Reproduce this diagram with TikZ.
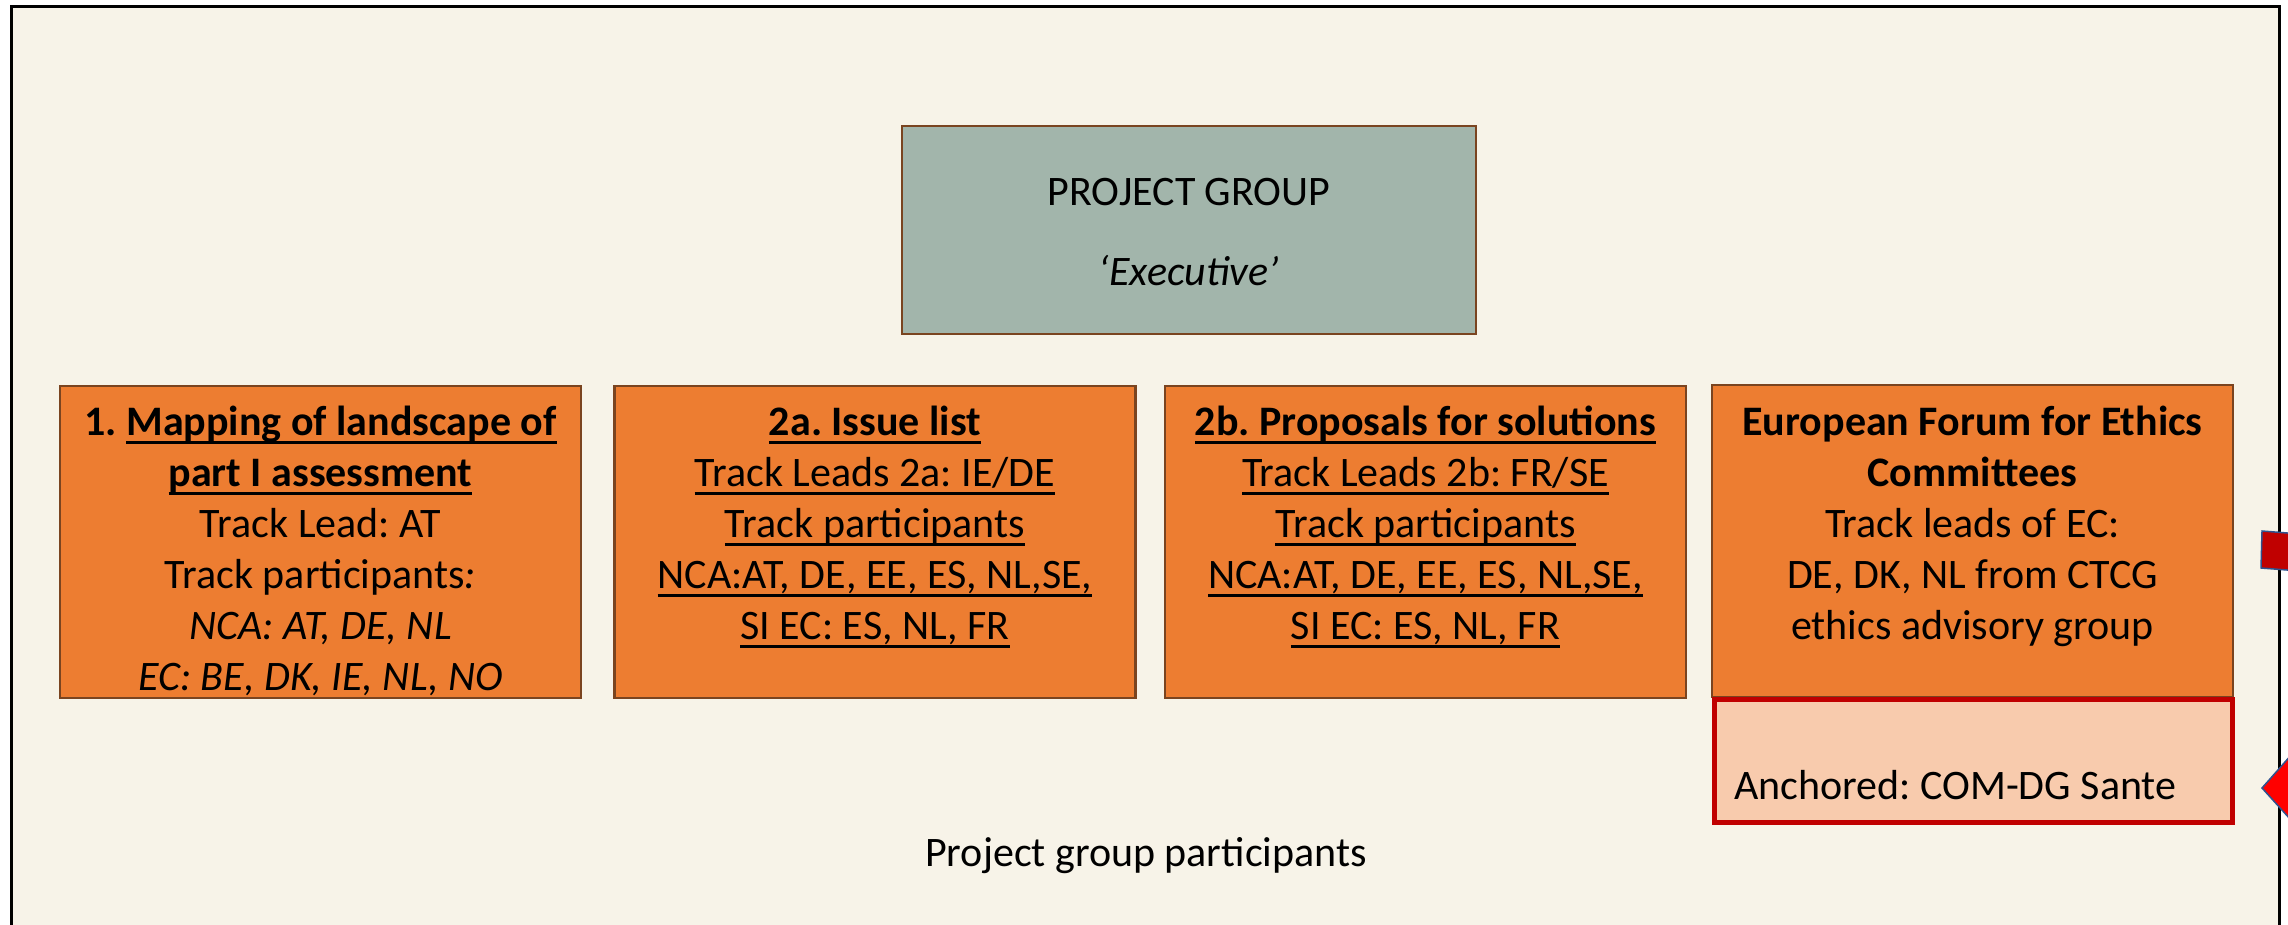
\documentclass[tikz,border=0pt]{standalone}
\usepackage{fontspec}
\setmainfont{Carlito}
\frenchspacing
\definecolor{cream}{HTML}{F7F3E8}
\definecolor{boxorange}{HTML}{ED7D31}
\definecolor{boxbrown}{HTML}{7A4420}
\definecolor{pggreen}{HTML}{A2B5AB}
\definecolor{pinkfill}{HTML}{F8CBAD}
\definecolor{darkred}{HTML}{C00000}
\definecolor{brightred}{HTML}{FF0000}
\definecolor{edgeblue}{HTML}{2F528F}
\newcommand{\topstrut}{\rule{0pt}{30pt}}
% underline drawn as a rule at a fixed depth under the text
\newcommand{\uln}[1]{\setbox0\hbox{#1}\rlap{\rule[-8.5pt]{\wd0}{2.6pt}}\box0}
\begin{document}
\begin{tikzpicture}[x=1pt,y=-1pt,
  every node/.style={font=\fontsize{42}{51}\selectfont\frenchspacing},
  trackbox/.style={draw=boxbrown, line width=2.5pt, fill=boxorange,
    minimum width=521pt, minimum height=312pt, inner sep=0pt},
  groupbox/.style={draw=boxbrown, line width=2.5pt, fill=pggreen,
    minimum width=574pt, minimum height=208pt, inner sep=0pt},
  anchorbox/.style={draw=darkred, line width=5pt, fill=pinkfill,
    minimum width=518pt, minimum height=123pt, inner sep=0pt},
  tracktext/.style={align=center, anchor=north, inner sep=0pt},
  plaintext/.style={anchor=base, inner sep=0pt},
  pointer/.style={draw=edgeblue, line width=1.5pt, line join=miter}
]
\useasboundingbox (0,0) rectangle (2288,925);
\fill[white] (0,0) rectangle (2288,925);

% slide frame, running off the bottom edge
\begin{scope}
  \clip (0,0) rectangle (2288,925);
  \draw[fill=cream, draw=black, line width=3pt] (11.5,7) rectangle (2279,960);
\end{scope}

% executive group
\node[groupbox] (pg) at (1189,230) {};
\node[plaintext] (pgtitle) at (1189,206) {PROJECT GROUP};
\node[plaintext] (pgsub) at (1189,286) {\itshape ‘Executive’};

% track boxes
\node[trackbox] (t1) at (320.5,542) {};
\node[trackbox] (t2) at (875,542) {};
\node[trackbox] (t3) at (1425.5,542) {};
\node[trackbox] (t4) at (1972.5,541) {};

\node[tracktext] (t1txt) at (320.5,405) {%
  \topstrut{\bfseries 1. \uln{Mapping of landscape of}}\\
  {\bfseries\uln{part I assessment}}\\
  Track Lead: AT\\
  Track participants\textit{:}\\
  \textit{NCA: AT, DE, NL}\\
  \textit{EC: BE, DK, IE, NL, NO}};

\node[tracktext] (t2txt) at (875,405) {%
  \topstrut{\bfseries\uln{2a. Issue list}}\\
  \uln{Track Leads 2a: IE/DE}\\
  \uln{Track participants}\\
  \uln{NCA:AT, DE, EE, ES, NL,SE,}\\
  \uln{SI EC: ES, NL, FR}};

\node[tracktext] (t3txt) at (1425.5,405) {%
  \topstrut{\bfseries\uln{2b. Proposals for solutions}}\\
  \uln{Track Leads 2b: FR/SE}\\
  \uln{Track participants}\\
  \uln{NCA:AT, DE, EE, ES, NL,SE,}\\
  \uln{SI EC: ES, NL, FR}};

\node[tracktext] (t4txt) at (1972.5,405) {%
  \topstrut{\bfseries European Forum for Ethics}\\
  {\bfseries Committees}\\
  Track leads of EC:\\
  DE, DK, NL from CTCG\\
  ethics advisory group};

% anchoring box under the forum
\node[anchorbox] (anc) at (1973,760.5) {};
\node[plaintext, anchor=base west] (anctxt) at (1734,799) {Anchored: COM-DG Sante};

\node[plaintext] (participants) at (1146,866) {Project group participants};

% pointer shapes entering from the right edge
\begin{scope}
  \clip (0,0) rectangle (2288,925);
  \filldraw[pointer, fill=darkred] (2262,531) -- (2300,534) -- (2300,571) -- (2261,568) -- cycle;
  \filldraw[pointer, fill=brightred] (2262,788) -- (2300,745) -- (2300,830) -- cycle;
\end{scope}
\end{tikzpicture}
\end{document}
